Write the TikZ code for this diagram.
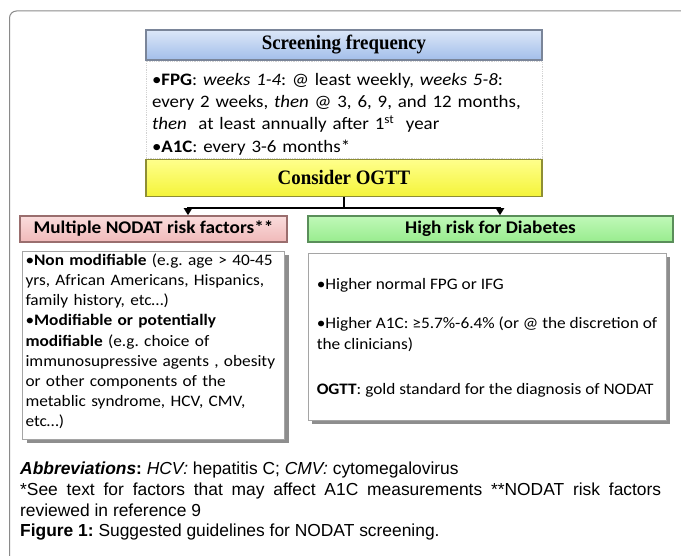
\documentclass[tikz,border=0pt]{standalone}
\usepackage{xcolor}
\usepackage{fontspec}
\setmainfont{Liberation Serif}
\newfontfamily\bodyfont[FakeStretch=1.08]{Carlito}
\newfontfamily\headfont[FakeStretch=0.92]{Liberation Serif}
\newfontfamily\capfont{Liberation Sans}
\usepackage{tikz}
\usetikzlibrary{arrows.meta,positioning,shadows}
\definecolor{SkyTop}{HTML}{DCE7F8}
\definecolor{SkyBottom}{HTML}{A2BEEA}
\definecolor{SkyEdge}{HTML}{7A8599}
\definecolor{LemonTop}{HTML}{FFFF8C}
\definecolor{LemonBottom}{HTML}{F4F43A}
\definecolor{OliveEdge}{HTML}{8E8E34}
\definecolor{RoseTop}{HTML}{FADCDC}
\definecolor{RoseBottom}{HTML}{F0B9B9}
\definecolor{RoseEdge}{HTML}{9A6E6E}
\definecolor{MintTop}{HTML}{C0F8B8}
\definecolor{MintBottom}{HTML}{98EC8E}
\definecolor{MintEdge}{HTML}{5A8E5A}
\definecolor{ShadeGray}{HTML}{8E8E8E}
\definecolor{FrameGray}{HTML}{8A8A8A}
\tikzset{
  HB/.style={rectangle,draw,line width=1.5pt,inner sep=0pt,
             text centered,font=\bodyfont\bfseries\fontsize{17.8}{20}\selectfont},
  hB/.style={HB,top color=SkyTop,bottom color=SkyBottom,draw=SkyEdge,
             font=\headfont\bfseries\fontsize{20.5}{24}\selectfont},
  hY/.style={HB,top color=LemonTop,bottom color=LemonBottom,draw=OliveEdge,
             font=\headfont\bfseries\fontsize{20.5}{24}\selectfont},
  hR/.style={HB,top color=RoseTop,bottom color=RoseBottom,draw=RoseEdge},
  hV/.style={HB,top color=MintTop,bottom color=MintBottom,draw=MintEdge},
  BW/.style={rectangle,draw=gray!35,line width=0.8pt,densely dotted,fill=white,
             align=left,inner ysep=0pt,inner xsep=6pt,
             font=\bodyfont\fontsize{17.5}{22.3}\selectfont},
  BX/.style={rectangle,draw=ShadeGray!80,line width=1pt,fill=white,
             align=left,inner ysep=0pt,
             drop shadow={shadow xshift=4pt,shadow yshift=-4pt,fill=ShadeGray,opacity=1},
             font=\bodyfont\fontsize{16}{20.2}\selectfont},
  arr/.style={-{Triangle[length=7pt,width=8pt]},line width=2.5pt},
  CP/.style={align=justify,text width=641pt,inner sep=0pt,anchor=north west,
             font=\capfont\fontsize{17.4}{20.6}\selectfont}
}
\begin{document}
\frenchspacing
\hyphenpenalty=10000
\begin{tikzpicture}[x=1pt,y=-1pt]
  \useasboundingbox (0,0) rectangle (681,556);
  % outer frame, cut by the page edge
  \draw[FrameGray,line width=1pt,rounded corners=7pt] (9.5,556) -- (9.5,11) -- (681,11);

  \node[hB,minimum width=396pt,minimum height=30pt] (sfHead) at (344,45) {Screening frequency};
  \node[BW,minimum width=396pt,minimum height=97pt,text width=384pt,below=0pt of sfHead] (sfBody)
    {\rule{0pt}{22.9pt}•\textbf{FPG}: \textit{weeks 1-4}: @ least weekly, \textit{weeks 5-8}:\\
     every 2 weeks, \textit{then} @ 3, 6, 9, and 12 months,\\
     \textit{then}~ at least annually after 1\textsuperscript{st}~ year\\
     •\textbf{A1C}: every 3-6 months*\rule[-5pt]{0pt}{0pt}};
  \node[hY,minimum width=396pt,minimum height=37pt,below=0pt of sfBody] (ogtt) {Consider OGTT};

  \node[hR,minimum width=267pt,minimum height=26pt] (risk) at (153.5,229) {Multiple NODAT risk factors**};
  \node[BX,minimum width=262pt,minimum height=188pt,text width=256pt,inner xsep=3pt,
        below=8pt of risk] (riskBody)
    {\rule{0pt}{12pt}•\textbf{Non modifiable} (e.g. age > 40-45\\
     yrs, African Americans, Hispanics,\\
     family history, etc…)\\
     •\textbf{Modifiable or potentially}\\
     \textbf{modifiable} (e.g. choice of\\
     immunosupressive agents , obesity\\
     or other components of the\\
     metablic syndrome, HCV, CMV,\\
     etc…)\rule[-10.4pt]{0pt}{0pt}};

  \node[hV,minimum width=365pt,minimum height=26pt] (diab) at (490.5,229) {High risk for Diabetes};
  \node[BX,minimum width=358pt,minimum height=167pt,inner xsep=8pt,
        font=\bodyfont\fontsize{16}{21}\selectfont,
        below=10pt of diab,xshift=-3.5pt] (diabBody)
    {\rule{0pt}{14pt}•Higher normal FPG or IFG\\[18pt]
     •Higher A1C: ≥5.7\%-6.4\% (or @ the discretion of\\
     the clinicians)\\[24pt]
     \textbf{OGTT}: gold standard for the diagnosis of NODAT\rule[-4pt]{0pt}{0pt}};

  \coordinate (jn) at ([yshift=-11pt]ogtt.south);
  \draw[line width=2.5pt] (ogtt.south) -- (jn);
  \draw[arr] (jn) -| ([xshift=34.5pt]risk.north);
  \draw[arr] (jn) -| ([xshift=9.5pt]diab.north);

  \node[CP] (caption) at (20,462)
    {\textbf{\textit{Abbreviations}}\textbf{:} \textit{HCV:} hepatitis C; \textit{CMV:} cytomegalovirus\\
     {}*See text for factors that may affect A1C measurements **NODAT risk factors
     reviewed in reference 9\\
     \textbf{Figure 1:} Suggested guidelines for NODAT screening.};
\end{tikzpicture}
\end{document}
